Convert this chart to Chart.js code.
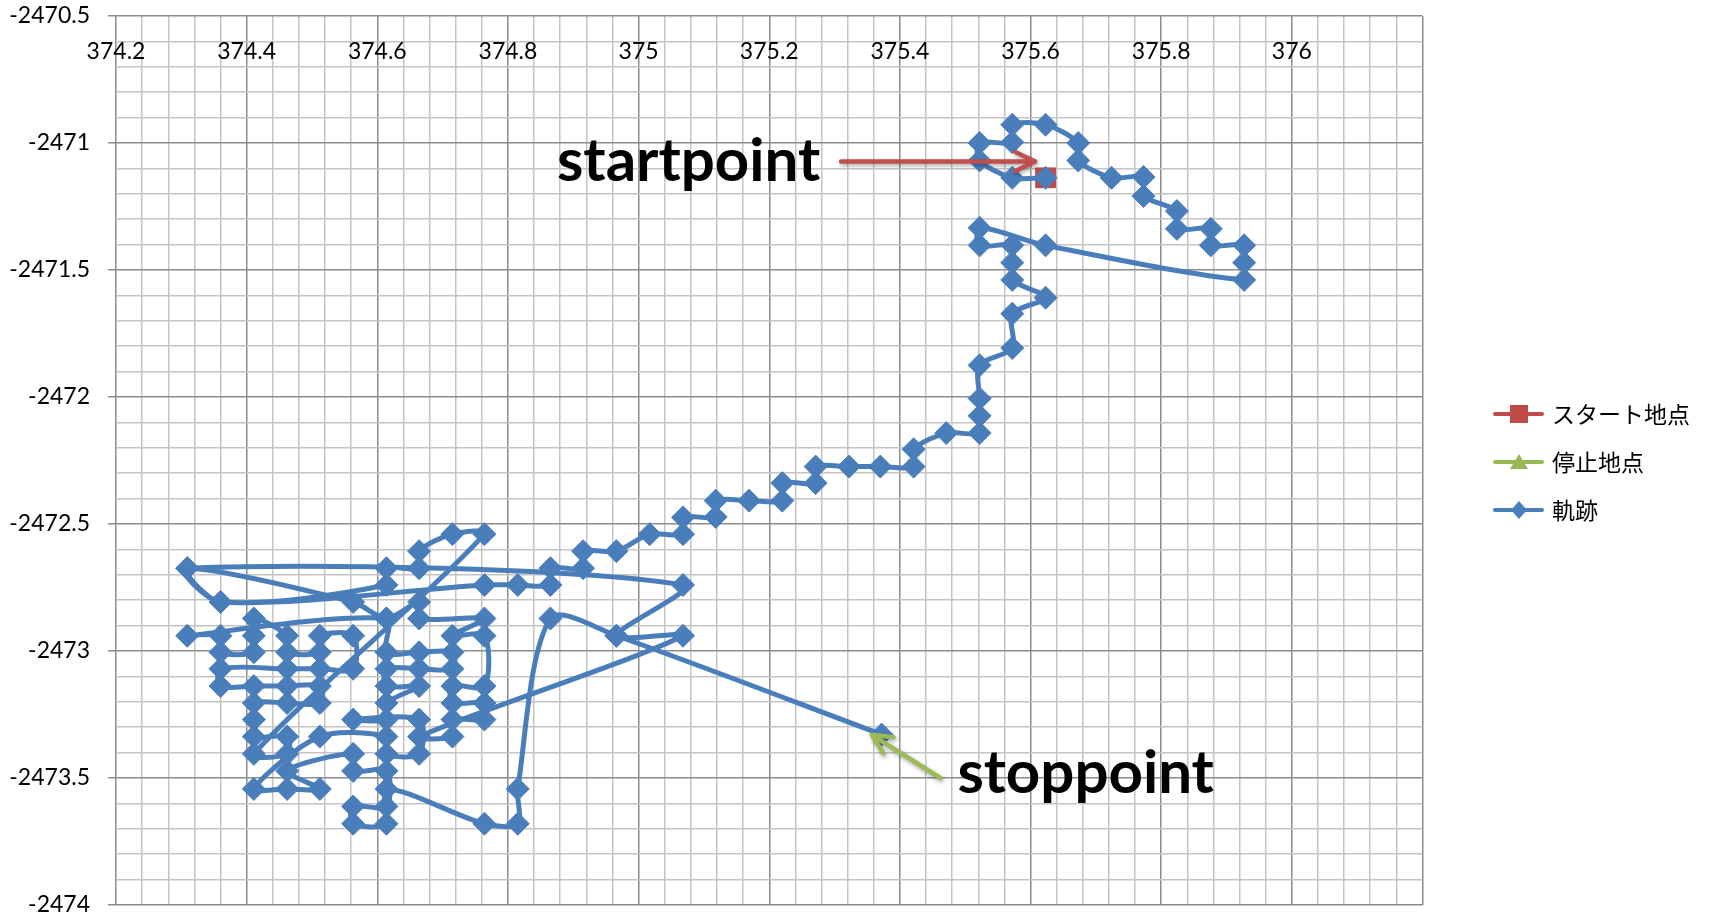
<!DOCTYPE html>
<html lang="ja">
<head>
<meta charset="utf-8">
<title>軌跡</title>
<script src="https://cdn.jsdelivr.net/npm/chart.js@4"></script>
<style>
  html, body { margin: 0; padding: 0; background: #fff; }
  #wrap { width: 1713px; height: 920px; position: relative; }
</style>
</head>
<body>
<div id="wrap"><canvas id="kiseki"></canvas></div>
<script>
// 軌跡データ (x, y)
const trackX = [
  375.623, 375.572, 375.522, 375.522, 375.572, 375.572, 375.623, 375.673, 375.673, 375.724,
  375.773, 375.773, 375.824, 375.824, 375.876, 375.876, 375.927, 375.927, 375.927, 375.623,
  375.522, 375.522, 375.572, 375.572, 375.572, 375.623, 375.572, 375.572, 375.522, 375.522,
  375.522, 375.522, 375.471, 375.421, 375.421, 375.370, 375.322, 375.271, 375.271, 375.220,
  375.220, 375.169, 375.118, 375.118, 375.068, 375.068, 375.017, 374.966, 374.915, 374.915,
  374.865, 374.865, 374.815, 374.764, 374.360, 374.309, 375.068, 374.966, 375.068, 374.664,
  374.715, 374.715, 374.764, 374.764, 374.715, 374.715, 374.764, 374.764, 374.715, 374.764,
  374.664, 374.664, 374.614, 374.563, 374.309, 374.360, 374.614, 374.614, 374.664, 374.664,
  374.715, 374.764, 374.411, 374.462, 374.462, 374.411, 374.411, 374.411, 374.462, 374.512,
  374.512, 374.462, 374.411, 374.360, 374.360, 374.462, 374.512, 374.563, 374.563, 374.512,
  374.512, 374.462, 374.462, 374.411, 374.411, 374.411, 374.360, 374.360, 374.309, 374.614,
  374.614, 374.664, 374.715, 374.715, 374.664, 374.614, 374.614, 374.664, 374.614, 374.614,
  374.563, 374.664, 374.664, 374.614, 374.614, 374.512, 374.411, 374.462, 374.512, 374.462,
  374.563, 374.563, 374.614, 374.614, 374.563, 374.563, 374.614, 374.614, 374.764, 374.815,
  374.815, 374.865, 374.966, 375.372
];
const trackY = [
  -2471.137, -2471.137, -2471.069, -2471.000, -2470.997, -2470.928, -2470.928, -2471.000, -2471.069, -2471.137,
  -2471.134, -2471.209, -2471.268, -2471.338, -2471.338, -2471.403, -2471.403, -2471.471, -2471.539, -2471.403,
  -2471.334, -2471.403, -2471.403, -2471.471, -2471.539, -2471.609, -2471.672, -2471.807, -2471.875, -2472.006,
  -2472.074, -2472.142, -2472.142, -2472.206, -2472.274, -2472.274, -2472.274, -2472.274, -2472.339, -2472.339,
  -2472.408, -2472.408, -2472.408, -2472.472, -2472.474, -2472.540, -2472.540, -2472.607, -2472.607, -2472.674,
  -2472.674, -2472.740, -2472.740, -2472.740, -2472.807, -2472.674, -2472.740, -2472.940, -2472.940, -2473.337,
  -2473.337, -2473.270, -2473.270, -2473.205, -2473.205, -2473.138, -2473.138, -2472.940, -2472.940, -2472.872,
  -2472.872, -2472.807, -2472.872, -2472.807, -2472.674, -2472.807, -2472.740, -2472.674, -2472.674, -2472.607,
  -2472.540, -2472.540, -2473.405, -2473.405, -2473.337, -2473.337, -2473.270, -2473.205, -2473.205, -2473.205,
  -2473.138, -2473.138, -2473.138, -2473.138, -2473.070, -2473.070, -2473.070, -2473.070, -2472.940, -2472.940,
  -2473.005, -2473.005, -2472.940, -2472.872, -2472.940, -2473.005, -2473.005, -2472.940, -2472.940, -2472.872,
  -2473.005, -2473.005, -2473.005, -2473.070, -2473.070, -2473.070, -2473.138, -2473.138, -2473.205, -2473.270,
  -2473.270, -2473.270, -2473.405, -2473.405, -2473.337, -2473.337, -2473.543, -2473.543, -2473.543, -2473.472,
  -2473.405, -2473.472, -2473.472, -2473.612, -2473.612, -2473.680, -2473.680, -2473.543, -2473.680, -2473.680,
  -2473.543, -2472.872, -2472.940, -2473.329
];

// スタート地点・停止地点
const startX = [375.623];
const startY = [-2471.137];
const stopX = [375.372];
const stopY = [-2473.329];

const seriesNames = ['スタート地点', '停止地点', '軌跡'];

// 目盛りラベル
const xTickLabels = ['374.2', '374.4', '374.6', '374.8', '375', '375.2', '375.4', '375.6', '375.8', '376'];
const yTickLabels = ['-2470.5', '-2471', '-2471.5', '-2472', '-2472.5', '-2473', '-2473.5', '-2474'];

// 注釈 (テキストと矢印)
const noteTexts = ['startpoint', 'stoppoint'];
const noteX = [374.875, 375.488];
const noteY = [-2471.149, -2473.558];
const arrowFromX = [375.310, 375.462];
const arrowFromY = [-2471.073, -2473.500];
const arrowToX = [375.607, 375.357];
const arrowToY = [-2471.073, -2473.330];

// 色
const colBlue = '#4A7EBB';
const colRed = '#BE4B48';
const colGreen = '#98B954';
const arrowColors = ['#C0504D', '#9BBB59'];
const gridMajor = '#8c8c8c';
const gridMinor = '#c4c4c4';
const tickFont = '23px Lato, sans-serif';

function toPoints(xs, ys) {
  return xs.map((x, i) => ({ x: x, y: ys[i] }));
}

function findLabel(list, value) {
  const hit = list.find(s => Math.abs(Number(s) - value) < 1e-6);
  return hit === undefined ? '' : hit;
}

function isMajor(value, per) {
  return Math.abs(value * per - Math.round(value * per)) < 1e-6;
}

// 凡例アイコン (線 + マーカー)
function makeIcon(color, marker) {
  const c = document.createElement('canvas');
  c.width = 100;
  c.height = 20;
  const g = c.getContext('2d');
  g.strokeStyle = color;
  g.fillStyle = color;
  g.lineWidth = 4;
  g.lineCap = 'round';
  g.beginPath();
  g.moveTo(51, 10);
  g.lineTo(98, 10);
  g.stroke();
  const cx = 75, cy = 10;
  g.beginPath();
  if (marker === 'rect') {
    g.rect(cx - 9, cy - 9, 18, 18);
  } else if (marker === 'triangle') {
    g.moveTo(cx, cy - 8);
    g.lineTo(cx + 9, cy + 7);
    g.lineTo(cx - 9, cy + 7);
    g.closePath();
  } else {
    g.moveTo(cx - 8, cy);
    g.lineTo(cx, cy - 9);
    g.lineTo(cx + 8, cy);
    g.lineTo(cx, cy + 9);
    g.closePath();
  }
  g.fill();
  return c;
}
const legendIcons = [makeIcon(colRed, 'rect'), makeIcon(colGreen, 'triangle'), makeIcon(colBlue, 'rectRot')];

// x軸ラベル (プロット内の上側) と注釈
const notePlugin = {
  id: 'notes',
  beforeDatasetsDraw(chart) {
    const ctx = chart.ctx;
    const xs = chart.scales.x;
    ctx.save();
    ctx.fillStyle = '#000';
    ctx.font = tickFont;
    ctx.textAlign = 'center';
    ctx.textBaseline = 'middle';
    xs.ticks.forEach(t => {
      const s = findLabel(xTickLabels, t.value);
      if (s) ctx.fillText(s, xs.getPixelForValue(t.value), chart.chartArea.top + 36);
    });
    ctx.restore();
  },
  afterDatasetsDraw(chart) {
    const ctx = chart.ctx;
    const xs = chart.scales.x;
    const ys = chart.scales.y;
    ctx.save();
    for (let i = 0; i < arrowFromX.length; i++) {
      const x1 = xs.getPixelForValue(arrowFromX[i]);
      const y1 = ys.getPixelForValue(arrowFromY[i]);
      const x2 = xs.getPixelForValue(arrowToX[i]);
      const y2 = ys.getPixelForValue(arrowToY[i]);
      const ang = Math.atan2(y2 - y1, x2 - x1);
      ctx.strokeStyle = arrowColors[i];
      ctx.lineWidth = 4.5;
      ctx.lineCap = 'round';
      ctx.lineJoin = 'round';
      ctx.shadowColor = 'rgba(0,0,0,0.35)';
      ctx.shadowBlur = 4;
      ctx.shadowOffsetX = 1;
      ctx.shadowOffsetY = 2;
      ctx.beginPath();
      ctx.moveTo(x1, y1);
      ctx.lineTo(x2, y2);
      ctx.moveTo(x2 - 22 * Math.cos(ang - 0.45), y2 - 22 * Math.sin(ang - 0.45));
      ctx.lineTo(x2, y2);
      ctx.lineTo(x2 - 22 * Math.cos(ang + 0.45), y2 - 22 * Math.sin(ang + 0.45));
      ctx.stroke();
    }
    ctx.shadowColor = 'transparent';
    ctx.fillStyle = '#000';
    ctx.font = 'bold 60px Lato, "Open Sans", sans-serif';
    ctx.textBaseline = 'alphabetic';
    ctx.textAlign = 'left';
    for (let i = 0; i < noteTexts.length; i++) {
      ctx.fillText(noteTexts[i], xs.getPixelForValue(noteX[i]), ys.getPixelForValue(noteY[i]));
    }
    ctx.restore();
  }
};

const chart = new Chart(document.getElementById('kiseki'), {
  type: 'scatter',
  data: {
    datasets: [
      {
        label: seriesNames[0],
        data: toPoints(startX, startY),
        pointStyle: 'rect',
        pointRadius: 14,
        backgroundColor: colRed,
        borderColor: colRed,
        order: 2
      },
      {
        label: seriesNames[1],
        data: toPoints(stopX, stopY),
        pointStyle: 'triangle',
        pointRadius: 7,
        backgroundColor: colGreen,
        borderColor: colGreen,
        order: 1
      },
      {
        label: seriesNames[2],
        data: toPoints(trackX, trackY),
        showLine: true,
        tension: 0.3,
        borderColor: colBlue,
        borderWidth: 5,
        pointStyle: 'rectRot',
        pointRadius: 11.5,
        pointBorderWidth: 1,
        pointBackgroundColor: colBlue,
        pointBorderColor: colBlue,
        order: 0
      }
    ]
  },
  options: {
    responsive: true,
    maintainAspectRatio: false,
    animation: false,
    events: [],
    layout: { padding: { top: 16, right: 13, bottom: 12, left: 0 } },
    scales: {
      x: {
        type: 'linear',
        position: 'top',
        min: 374.2,
        max: 376.2,
        border: { display: false },
        grid: {
          drawTicks: false,
          lineWidth: 1.5,
          color: c => (c.tick && isMajor(c.tick.value, 5)) ? gridMajor : gridMinor
        },
        ticks: {
          display: false,
          stepSize: 0.04,
          autoSkip: false,
          maxRotation: 0
        }
      },
      y: {
        type: 'linear',
        min: -2474,
        max: -2470.5,
        afterFit(scale) {
          scale.width = 116;
          scale.paddingTop = 14;
          scale.paddingBottom = 14;
        },
        border: { display: false },
        grid: {
          tickLength: 8,
          lineWidth: 1.5,
          color: c => (c.tick && isMajor(c.tick.value, 2)) ? gridMajor : gridMinor,
          tickColor: c => (c.tick && isMajor(c.tick.value, 2)) ? gridMajor : 'transparent'
        },
        ticks: {
          stepSize: 0.1,
          autoSkip: false,
          padding: 18,
          color: '#000',
          font: { family: 'Lato', size: 23 },
          callback: v => findLabel(yTickLabels, v)
        }
      }
    },
    plugins: {
      tooltip: { enabled: false },
      legend: {
        position: 'right',
        labels: {
          usePointStyle: true,
          pointStyleWidth: 93,
          padding: 25,
          color: '#000',
          font: { family: '"Noto Sans CJK JP"', size: 23 },
          generateLabels(ch) {
            const items = Chart.defaults.plugins.legend.labels.generateLabels(ch);
            items.sort((a, b) => a.datasetIndex - b.datasetIndex);
            items.forEach(it => { it.pointStyle = legendIcons[it.datasetIndex]; });
            return items;
          }
        }
      }
    }
  },
  plugins: [notePlugin]
});
</script>
</body>
</html>
